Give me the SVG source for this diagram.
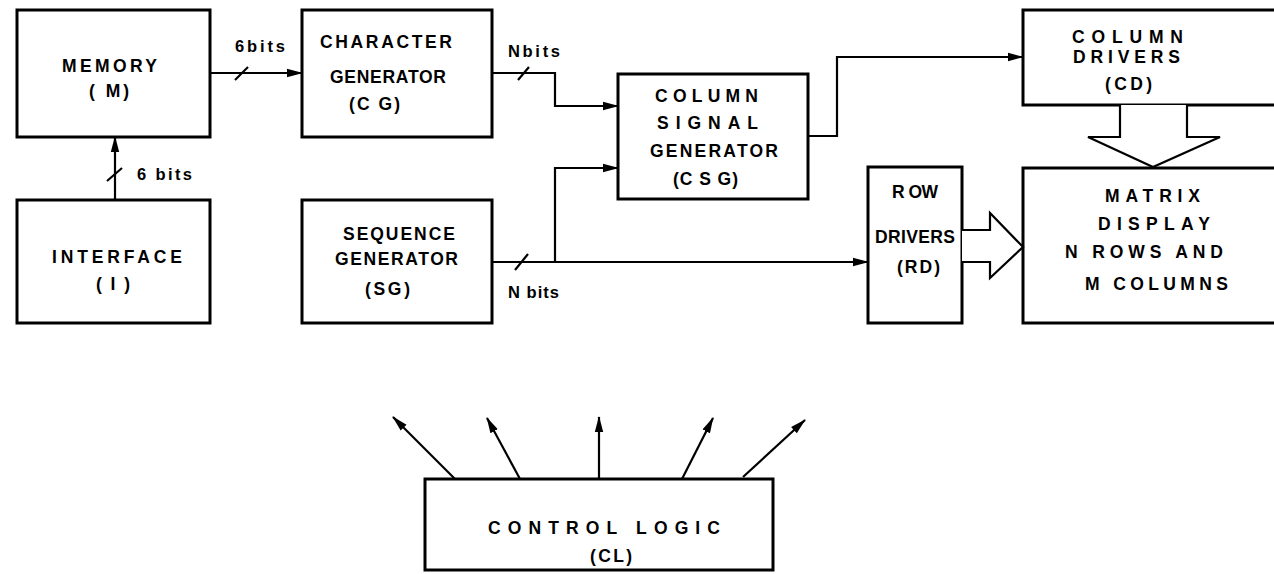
<svg xmlns="http://www.w3.org/2000/svg" width="1274" height="574" viewBox="0 0 1274 574">
<style>
.box{fill:#fff;stroke:#000;stroke-width:3}
.w{fill:none;stroke:#000;stroke-width:2.2}
.big{fill:#fff;stroke:#000;stroke-width:2.2;stroke-linejoin:miter}
text{font-family:"Liberation Sans",Arial,sans-serif;font-weight:bold;font-size:17.5px;fill:#000}
text.s{font-size:16.5px}
</style>
<defs>
<marker id="ah" markerUnits="userSpaceOnUse" markerWidth="16" markerHeight="10" refX="15" refY="5" orient="auto">
<path d="M0,0.8 L16,5 L0,9.2 z" fill="#000"/>
</marker>
</defs>
<rect width="1274" height="574" fill="#fff"/>
<g id="memory"><rect class="box" x="17" y="10" width="193" height="127"/>
<text x="62" y="72" textLength="95" lengthAdjust="spacing">MEMORY</text>
<text x="89" y="97" textLength="40" lengthAdjust="spacing">( M)</text></g>
<g id="interface"><rect class="box" x="17" y="200" width="193" height="123"/>
<text x="52" y="263" textLength="130" lengthAdjust="spacing">INTERFACE</text>
<text x="96" y="290" textLength="34" lengthAdjust="spacing">( I )</text></g>
<g id="cg"><rect class="box" x="302" y="10" width="190" height="127"/>
<text x="320" y="48" textLength="132" lengthAdjust="spacing">CHARACTER</text>
<text x="330" y="83" textLength="116" lengthAdjust="spacing">GENERATOR</text>
<text x="349" y="110" textLength="51" lengthAdjust="spacing">(C G)</text></g>
<g id="sg"><rect class="box" x="302" y="200" width="190" height="123"/>
<text x="343" y="240" textLength="112" lengthAdjust="spacing">SEQUENCE</text>
<text x="335" y="265" textLength="123" lengthAdjust="spacing">GENERATOR</text>
<text x="365" y="295" textLength="45" lengthAdjust="spacing">(SG)</text></g>
<g id="csg"><rect class="box" x="618" y="74" width="190" height="125"/>
<text x="655" y="102" textLength="103" lengthAdjust="spacing">COLUMN</text>
<text x="657" y="129" textLength="101" lengthAdjust="spacing">SIGNAL</text>
<text x="650" y="157" textLength="128" lengthAdjust="spacing">GENERATOR</text>
<text x="673" y="185" textLength="65" lengthAdjust="spacing">(C S G)</text></g>
<g id="cd"><rect class="box" x="1023" y="10" width="260" height="95"/>
<text x="1072" y="43" textLength="111" lengthAdjust="spacing">COLUMN</text>
<text x="1073" y="63" textLength="107" lengthAdjust="spacing">DRIVERS</text>
<text x="1105" y="90" textLength="47" lengthAdjust="spacing">(CD)</text></g>
<g id="rd"><rect class="box" x="868" y="167" width="94" height="156"/>
<text x="892" y="198" textLength="46" lengthAdjust="spacing">R OW</text>
<text x="875" y="243" textLength="80" lengthAdjust="spacing">DRIVERS</text>
<text x="897" y="273" textLength="43" lengthAdjust="spacing">(RD)</text></g>
<g id="matrix"><rect class="box" x="1023" y="168" width="260" height="155"/>
<text x="1105" y="202" textLength="95" lengthAdjust="spacing">MATRIX</text>
<text x="1098" y="230" textLength="112" lengthAdjust="spacing">DISPLAY</text>
<text x="1065" y="258" textLength="158" lengthAdjust="spacing">N  ROWS  AND</text>
<text x="1085" y="290" textLength="143" lengthAdjust="spacing">M  COLUMNS</text></g>
<g id="cl"><rect class="box" x="425" y="479" width="348" height="91"/>
<text x="488" y="534" textLength="232" lengthAdjust="spacing">CONTROL  LOGIC</text>
<text x="590" y="562" textLength="42" lengthAdjust="spacing">(CL)</text></g>
<g id="connectors">
<line class="w" x1="210" y1="73" x2="302" y2="73" marker-end="url(#ah)"/>
<line class="w" x1="235" y1="80" x2="248" y2="67"/>
<text class="s" x="235" y="52" textLength="50" lengthAdjust="spacing">6bits</text>
<line class="w" x1="115" y1="200" x2="115" y2="137" marker-end="url(#ah)"/>
<line class="w" x1="107" y1="181" x2="122" y2="168"/>
<text class="s" x="137" y="180" textLength="55" lengthAdjust="spacing">6 bits</text>
<polyline class="w" points="492,73 555,73 555,106 618,106" marker-end="url(#ah)"/>
<line class="w" x1="518" y1="80" x2="529" y2="67"/>
<text class="s" x="508" y="57" textLength="52" lengthAdjust="spacing">Nbits</text>
<line class="w" x1="492" y1="262" x2="868" y2="262" marker-end="url(#ah)"/>
<polyline class="w" points="555,262 555,168 618,168" marker-end="url(#ah)"/>
<line class="w" x1="515" y1="270" x2="528" y2="254"/>
<text class="s" x="508" y="298" textLength="51" lengthAdjust="spacing">N bits</text>
<polyline class="w" points="808,136 837,136 837,57 1023,57" marker-end="url(#ah)"/>
<path class="big" d="M962,230 L990,230 L990,213 L1023,247 L990,278 L990,262 L962,262"/>
<path class="big" d="M1120,105 L1120,137 L1088,137 L1153,167 L1220,137 L1187,137 L1187,105"/>
<line class="w" x1="455" y1="479" x2="393" y2="417" marker-end="url(#ah)"/>
<line class="w" x1="520" y1="479" x2="487" y2="418" marker-end="url(#ah)"/>
<line class="w" x1="599" y1="479" x2="599" y2="417" marker-end="url(#ah)"/>
<line class="w" x1="682" y1="479" x2="713" y2="418" marker-end="url(#ah)"/>
<line class="w" x1="743" y1="477" x2="805" y2="420" marker-end="url(#ah)"/>
</g>
</svg>
